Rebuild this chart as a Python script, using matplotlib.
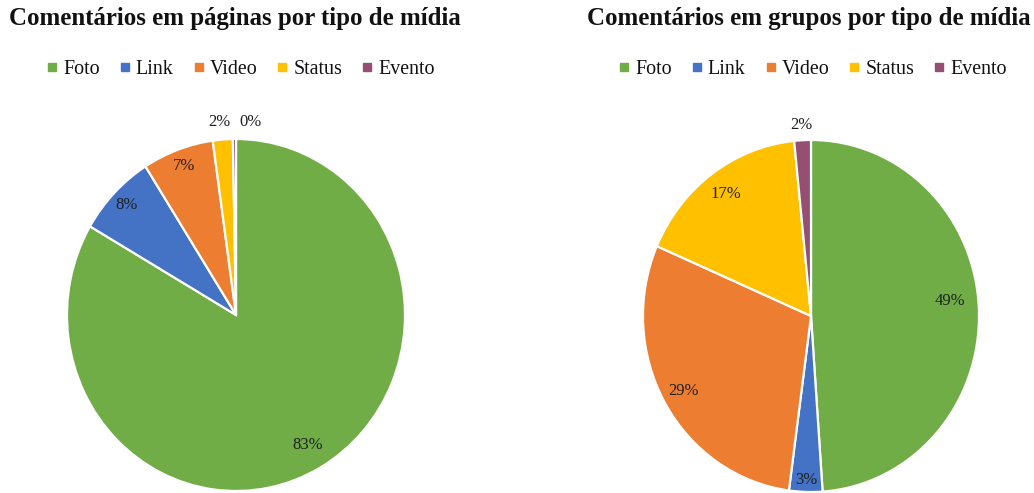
import matplotlib.pyplot as plt
from matplotlib.lines import Line2D
import numpy as np

plt.rcParams["font.family"] = ["Liberation Serif", "DejaVu Serif"]

categories = ["Foto", "Link", "Video", "Status", "Evento"]
colors = ["#70AD47", "#4472C4", "#ED7D31", "#FFC000", "#954F72"]

# share of comments (%) per media type
paginas = [83.4, 7.6, 6.8, 1.9, 0.3]
grupos = [48.9, 3.2, 29.4, 16.9, 1.6]

titles = ["Comentários em páginas por tipo de mídia",
          "Comentários em grupos por tipo de mídia"]

# label distance from centre (fraction of radius) and small angle nudges
label_dist = [[0.85, 0.9, 0.9, 1.1, 1.1], [0.83, 0.93, 0.87, 0.86, 1.085]]
label_nudge = [[0, 0, 0, 0.5, -5], [4, 0, 0, 0, 0]]

W, H = 1034, 493
fig = plt.figure(figsize=(W / 100, H / 100), dpi=100)


def draw_pie(cx, cy, rx, ry, values, dists, nudges, title, title_x, legend_x):
    # the original picture is slightly stretched vertically, so the pie is an ellipse
    ax = fig.add_axes([(cx - rx) / W, (H - cy - ry) / H, 2 * rx / W, 2 * ry / H])
    wedges, _ = ax.pie(values, colors=colors, startangle=90, counterclock=False,
                       wedgeprops=dict(edgecolor="white", linewidth=1.6))
    ax.set_xlim(-1, 1)
    ax.set_ylim(-1, 1)
    ax.set_aspect("auto")
    ax.axis("off")
    total = sum(values)
    for w, v, d, n in zip(wedges, values, dists, nudges):
        ang = np.deg2rad((w.theta1 + w.theta2) / 2 + n)
        ax.text(d * np.cos(ang), d * np.sin(ang), f"{v / total * 100:.0f}%",
                ha="center", va="center", fontsize=12, color="#1f1f1f",
                clip_on=False)

    fig.text(title_x / W, 1 - 19 / H, title, ha="center", va="center",
             fontsize=17.9, fontweight="bold", color="#111111")
    handles = [Line2D([], [], marker="s", linestyle="", color=c, markersize=5.5)
               for c in colors]
    fig.legend(handles, categories, loc="center", ncol=5,
               bbox_to_anchor=(legend_x / W, 1 - 69 / H), frameon=False,
               fontsize=14.4, handlelength=0.5, handletextpad=0.3,
               columnspacing=1.0, borderpad=0, labelcolor="#111111")


draw_pie(236, 315, 169, 176, paginas, label_dist[0], label_nudge[0], titles[0], 235, 241)
draw_pie(811, 316, 168, 176, grupos, label_dist[1], label_nudge[1], titles[1], 809, 813)

fig.savefig("out.png", dpi=100, facecolor="white")
